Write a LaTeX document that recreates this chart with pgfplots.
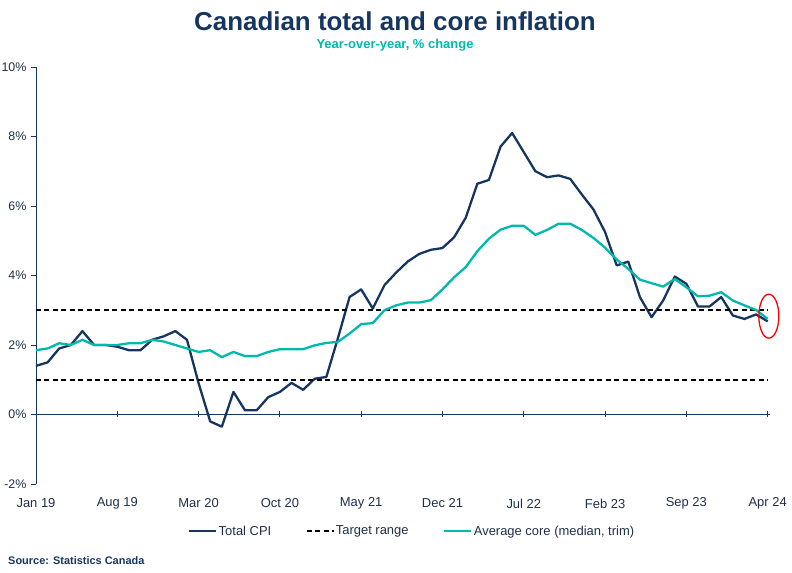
\documentclass[border=0pt]{standalone}
\usepackage{fontspec}
\setmainfont{Liberation Sans}
\usepackage{pgfplots}
\pgfplotsset{compat=1.18}
\definecolor{navy}{HTML}{163660}
\definecolor{teal2}{HTML}{00B8AC}
\definecolor{txt}{HTML}{1F2F48}
\pgfplotstableread{
x cpi core
0 1.40 1.85
1 1.50 1.90
2 1.90 2.05
3 2.00 2.00
4 2.40 2.15
5 2.00 2.00
6 2.00 2.00
7 1.95 2.00
8 1.85 2.05
9 1.85 2.05
10 2.15 2.15
11 2.25 2.10
12 2.40 2.00
13 2.15 1.90
14 0.90 1.80
15 -0.20 1.85
16 -0.35 1.65
17 0.65 1.80
18 0.12 1.68
19 0.12 1.68
20 0.50 1.80
21 0.65 1.88
22 0.91 1.88
23 0.71 1.88
24 1.03 1.99
25 1.08 2.06
26 2.20 2.09
27 3.38 2.33
28 3.60 2.60
29 3.05 2.63
30 3.72 3.00
31 4.08 3.14
32 4.40 3.22
33 4.62 3.22
34 4.74 3.29
35 4.79 3.60
36 5.10 3.95
37 5.66 4.24
38 6.64 4.70
39 6.75 5.06
40 7.71 5.32
41 8.10 5.43
42 7.55 5.43
43 7.00 5.17
44 6.83 5.31
45 6.88 5.49
46 6.78 5.49
47 6.33 5.31
48 5.90 5.08
49 5.25 4.80
50 4.29 4.46
51 4.40 4.19
52 3.38 3.88
53 2.80 3.78
54 3.28 3.68
55 3.97 3.90
56 3.76 3.66
57 3.11 3.40
58 3.11 3.42
59 3.38 3.52
60 2.85 3.28
61 2.75 3.14
62 2.88 3.01
63 2.68 2.75
}\datatable
\begin{document}
\begin{tikzpicture}
\path[use as bounding box] (-36bp,-89bp) rectangle (756bp,484bp);
\begin{axis}[
  at={(0,0)}, anchor=south west,
  scale only axis, width=734bp, height=417bp,
  xmin=0, xmax=63.2, ymin=-2, ymax=10,
  axis x line=bottom, axis y line=left,
  x axis line style={draw=none},
  y axis line style={navy, line width=0.8pt, -},
  xtick={0,7,...,63},
  xticklabels={Jan 19,Aug 19,Mar 20,Oct 20,May 21,Dec 21,Jul 22,Feb 23,Sep 23,Apr 24},
  x tick style={draw=none},
  xticklabel style={anchor=center, yshift=-17bp, font=\fontsize{13}{15}\selectfont, text=txt},
  ytick={-2,0,2,4,6,8,10},
  yticklabels={-2\%,0\%,2\%,4\%,6\%,8\%,10\%},
  y tick style={navy, line width=0.8pt},
  ytick align=outside, major tick length=5bp,
  yticklabel style={font=\fontsize{12.5}{14}\selectfont, text=txt, xshift=-1bp},
  clip=false,
  legend columns=3,
  legend style={at={(0.512,-0.113)}, anchor=center, draw=none, fill=none,
    font=\fontsize{13}{15}\selectfont, text=txt,
    /tikz/every even column/.append style={column sep=33bp},
    nodes={inner xsep=1.5bp}},
  legend image code/.code={\draw[#1] (0bp,0bp) -- (27bp,0bp);},
]
\addplot[navy, line width=2.3pt, line join=round] table[x=x, y=cpi] {\datatable};
\addlegendentry{Total CPI}
\addplot[black, line width=1.6pt, dash pattern=on 5bp off 3.5bp] coordinates {(0,3) (63,3)};
\addlegendentry{Target range}
\addplot[black, line width=1.6pt, dash pattern=on 5bp off 3.5bp, forget plot] coordinates {(0,1) (63,1)};
\addplot[teal2, line width=2.3pt, line join=round] table[x=x, y=core] {\datatable};
\addlegendentry{Average core (median, trim)}
\draw[red, line width=1.3pt] (axis cs:63.1,2.83) ellipse [x radius=10bp, y radius=22bp];
\end{axis}
\begin{axis}[
  at={(0,0)}, anchor=south west,
  scale only axis, width=734bp, height=417bp,
  xmin=0, xmax=63.2, ymin=-2, ymax=10,
  axis x line=middle, axis y line=none,
  axis line style={navy, line width=0.8pt, -},
  xtick={0,7,...,63}, xticklabels={},
  hide obscured x ticks=false,
  x tick style={navy, line width=0.8pt},
  tick align=center, major tick length=6bp,
]
\end{axis}
\node[font=\fontsize{26}{30}\bfseries\selectfont, text=navy] at (359bp,462.5bp) {Canadian total and core inflation};
\node[font=\fontsize{13}{16}\bfseries\selectfont, text=teal2] at (359bp,439bp) {Year-over-year, \% change};
\node[anchor=west, font=\fontsize{11}{13}\bfseries\selectfont, text=navy, inner sep=0pt] at (-28bp,-77bp) {Source: Statistics Canada};
\end{tikzpicture}
\end{document}
